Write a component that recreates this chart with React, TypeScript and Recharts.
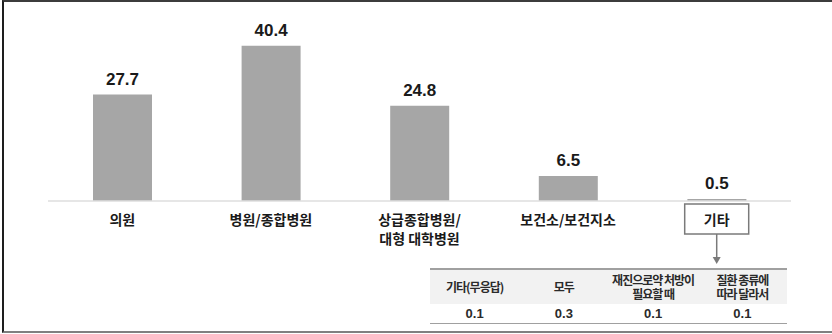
import React from 'react'
import { Bar, BarChart, LabelList, XAxis, YAxis } from 'recharts'

// 이용 의료기관 유형별 응답 비율(%)
const categories = ['의원', '병원/종합병원', '상급종합병원/\n대형 대학병원', '보건소/보건지소', '기타']
const shares = [27.7, 40.4, 24.8, 6.5, 0.5]

// '기타' 세부 응답
const otherItems = ['기타(무응답)', '모두', '재진으로약 처방이\n필요할 때', '질환 종류에\n따라 달라서']
const otherShares = [0.1, 0.3, 0.1, 0.1]

const data = categories.map((name, i) => ({ name, value: shares[i] }))

const KR_FONT = '"Noto Sans CJK KR", "Noto Sans", sans-serif'
const NUM_FONT = '"Liberation Sans", Arial, sans-serif'

function CategoryTick(props: any) {
  const { x, y, payload, index } = props
  const lines = String(payload.value).split('\n')
  const isOther = index === categories.length - 1
  return (
    <g>
      {isOther && (
        <g>
          <rect x={x - 32} y={y + 3} width={64} height={30} fill="#fff" stroke="#7a7a7a" strokeWidth={1.5} />
          <line x1={x} y1={y + 33} x2={x} y2={y + 57} stroke="#7a7a7a" strokeWidth={1.5} />
          <path d={`M ${x - 4} ${y + 56} L ${x + 4} ${y + 56} L ${x} ${y + 63} Z`} fill="#7a7a7a" />
        </g>
      )}
      {lines.map((line, i) => (
        <text
          key={i}
          x={x}
          y={y + 18 + i * 19}
          textAnchor="middle"
          dominantBaseline="central"
          fontFamily={KR_FONT}
          fontWeight={700}
          fontSize={14}
          fill="#1a1a1a"
        >
          {line}
        </text>
      ))}
    </g>
  )
}

function OtherTable() {
  return (
    <div
      style={{
        position: 'absolute',
        left: 430,
        top: 268,
        width: 357,
        borderTop: '2px solid #a0a0a0',
        borderBottom: '1.5px solid #a0a0a0',
        fontFamily: KR_FONT,
        fontWeight: 700,
        color: '#2a2a2a',
      }}
    >
      <div style={{ display: 'flex', height: 34, background: '#f2f2f2', alignItems: 'center' }}>
        {otherItems.map((item) => (
          <div
            key={item}
            style={{
              flex: 1,
              textAlign: 'center',
              fontSize: 12,
              lineHeight: '14px',
              whiteSpace: 'pre',
              letterSpacing: -1,
            }}
          >
            {item}
          </div>
        ))}
      </div>
      <div style={{ display: 'flex', height: 19, alignItems: 'center' }}>
        {otherShares.map((v, i) => (
          <div key={i} style={{ flex: 1, textAlign: 'center', fontSize: 13, fontFamily: NUM_FONT }}>
            {v.toFixed(1)}
          </div>
        ))}
      </div>
    </div>
  )
}

export default function App() {
  return (
    <div style={{ position: 'fixed', left: 0, top: 0, width: 832, height: 334, background: '#fff' }}>
      <div
        style={{
          position: 'absolute',
          left: 2,
          top: 0,
          width: 830,
          height: 333,
          boxSizing: 'border-box',
          borderTop: '2px solid #3c3c3c',
          borderLeft: '2px solid #1e1e1e',
          borderBottom: '2px solid #808080',
        }}
      />
      <BarChart
        width={832}
        height={334}
        data={data}
        margin={{ top: 28, right: 41, left: 48, bottom: 0 }}
        style={{ position: 'absolute', left: 0, top: 0 }}
      >
        <XAxis
          dataKey="name"
          height={133}
          interval={0}
          tickLine={false}
          tickSize={0}
          tickMargin={0}
          axisLine={{ stroke: '#dedede', strokeWidth: 1.5 }}
          tick={<CategoryTick />}
        />
        <YAxis hide domain={[0, 45]} />
        <Bar dataKey="value" fill="#a6a6a6" barSize={59} isAnimationActive={false}>
          <LabelList
            dataKey="value"
            position="top"
            offset={10}
            fill="#1a1a1a"
            fontSize={17}
            fontWeight={700}
            fontFamily={NUM_FONT}
            formatter={(v: any) => Number(v).toFixed(1)}
          />
        </Bar>
      </BarChart>
      <OtherTable />
    </div>
  )
}
